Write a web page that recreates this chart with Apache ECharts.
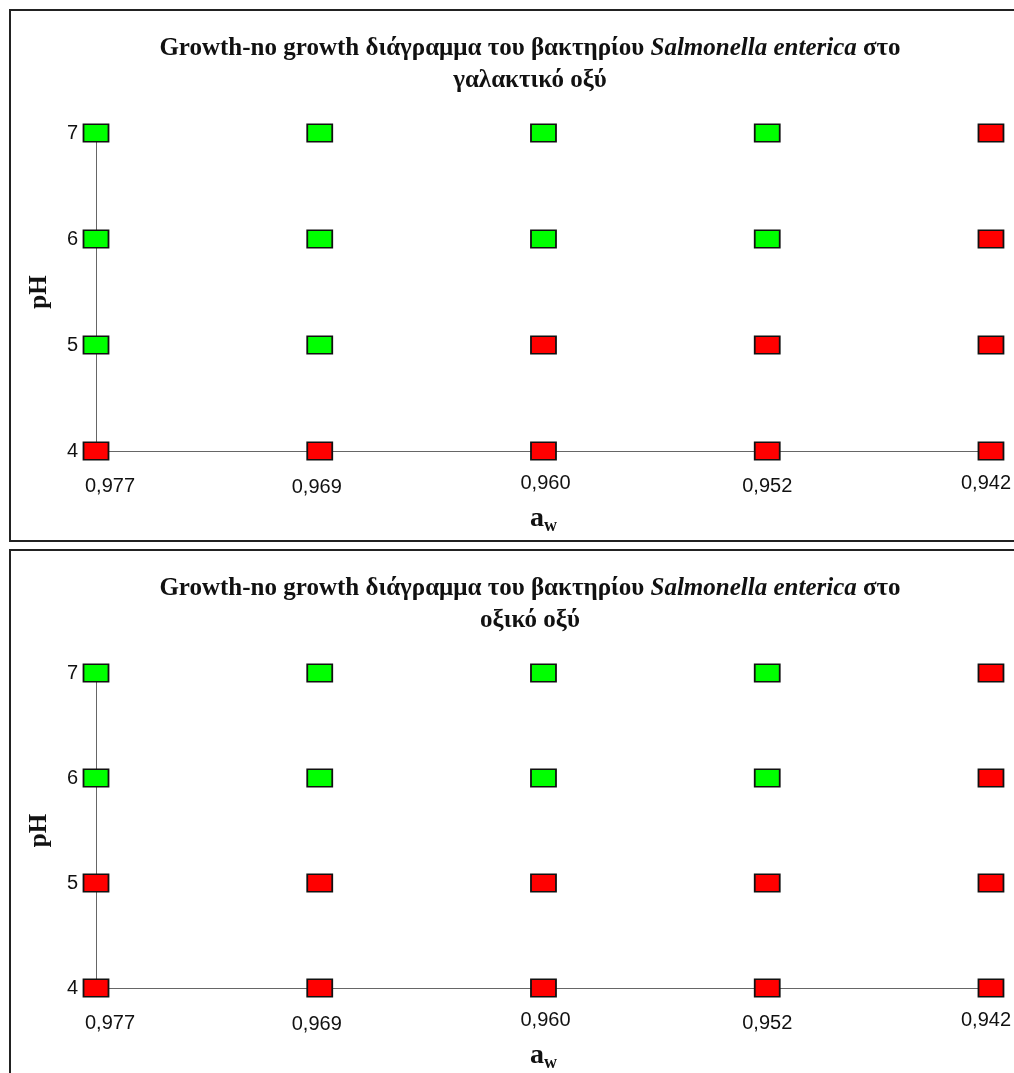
<!DOCTYPE html>
<html>
<head>
<meta charset="utf-8">
<script src="https://cdn.jsdelivr.net/npm/echarts@6/dist/echarts.min.js"></script>
<style>
  html, body { margin: 0; padding: 0; background: #fff; overflow: hidden; }
  #chart { width: 1014px; height: 1073px; }
</style>
</head>
<body>
<div id="chart"></div>
<script>
// Water activity levels (x categories) and pH levels tested
const awLabels = ['0,977', '0,969', '0,960', '0,952', '0,942'];
const phLevels = [4, 5, 6, 7];

// Growth (1) / no growth (0) per pH row (4, 5, 6, 7) and a_w column
const lacticGrowth = [
  [0, 0, 0, 0, 0],
  [1, 1, 0, 0, 0],
  [1, 1, 1, 1, 0],
  [1, 1, 1, 1, 0]
];
const aceticGrowth = [
  [0, 0, 0, 0, 0],
  [0, 0, 0, 0, 0],
  [1, 1, 1, 1, 0],
  [1, 1, 1, 1, 0]
];

const panelTitles = [
  ['Growth-no growth διάγραμμα του βακτηρίου ', 'Salmonella enterica', ' στο', 'γαλακτικό οξύ'],
  ['Growth-no growth διάγραμμα του βακτηρίου ', 'Salmonella enterica', ' στο', 'οξικό οξύ']
];

const GREEN = '#00ff00';
const RED = '#ff0000';
const SERIF = '"Liberation Serif", "Times New Roman", serif';
const SANS = '"Liberation Sans", Arial, sans-serif';

// small per-label nudges of the a_w tick labels [dx, dy]
const labelNudge = [[14, 3], [-3, 4], [2, 0], [0, 3], [-5, 0]];

function pointsFor(matrix, flag) {
  const pts = [];
  matrix.forEach(function (row, r) {
    row.forEach(function (v, c) {
      if (v === flag) pts.push([c, phLevels[r]]);
    });
  });
  return pts;
}

const labelRich = {};
labelNudge.forEach(function (n, i) {
  labelRich['l' + i] = {
    fontFamily: SANS, fontSize: 20, color: '#111',
    padding: [Math.max(n[1], 0), n[0] < 0 ? -n[0] * 2 : 0, 0, n[0] > 0 ? n[0] * 2 : 0]
  };
});

const panelTop = [133, 673];
const grids = [], xAxes = [], yAxes = [], series = [], titles = [];

[lacticGrowth, aceticGrowth].forEach(function (matrix, k) {
  grids.push({ left: 96, right: 22, top: panelTop[k], height: 318 });
  xAxes.push({
    type: 'category', gridIndex: k, data: awLabels, boundaryGap: false,
    axisLine: { lineStyle: { color: '#666', width: 1 } },
    axisTick: { show: false },
    splitLine: { show: false },
    axisLabel: {
      margin: 22,
      formatter: function (val, idx) { return '{l' + idx + '|' + val + '}'; },
      rich: labelRich
    },
    name: '{a|a}{w|w}',
    nameLocation: 'middle', nameGap: 52,
    nameTextStyle: {
      rich: {
        a: { fontFamily: SERIF, fontWeight: 'bold', fontSize: 28, color: '#111' },
        w: { fontFamily: SERIF, fontWeight: 'bold', fontSize: 18, color: '#111', padding: [14, 0, 0, 0] }
      }
    }
  });
  yAxes.push({
    type: 'value', gridIndex: k, min: 4, max: 7, interval: 1,
    axisLine: { show: true, lineStyle: { color: '#666', width: 1 } },
    axisTick: { show: false },
    splitLine: { show: false },
    axisLabel: { margin: 18, fontFamily: SANS, fontSize: 20, color: '#111' },
    name: 'pH', nameLocation: 'middle', nameGap: 44, nameRotate: 90,
    nameTextStyle: { fontFamily: SERIF, fontWeight: 'bold', fontSize: 25, color: '#111' }
  });
  [[1, GREEN, 'growth'], [0, RED, 'no growth']].forEach(function (s) {
    series.push({
      type: 'scatter', name: s[2], xAxisIndex: k, yAxisIndex: k,
      symbol: 'rect', symbolSize: [25, 17.5], clip: false,
      itemStyle: { color: s[1], borderColor: '#111', borderWidth: 1.5, opacity: 1 },
      data: pointsFor(matrix, s[0]),
      z: 5
    });
  });
  const t = panelTitles[k];
  titles.push({
    left: 525, top: panelTop[k] - 105, textAlign: 'center',
    text: '{b|' + t[0] + '}{i|' + t[1] + '}{b|' + t[2] + '}\n{b|' + t[3] + '}',
    textStyle: {
      lineHeight: 32,
      rich: {
        b: { fontFamily: SERIF, fontWeight: 'bold', fontSize: 25, color: '#111', lineHeight: 32 },
        i: { fontFamily: SERIF, fontWeight: 'bold', fontStyle: 'italic', fontSize: 25, color: '#111', lineHeight: 32 }
      }
    }
  });
});

const chart = echarts.init(document.getElementById('chart'), null, { renderer: 'canvas' });
chart.setOption({
  animation: false,
  backgroundColor: '#fff',
  title: titles,
  grid: grids,
  xAxis: xAxes,
  yAxis: yAxes,
  series: series,
  graphic: [
    { type: 'rect', shape: { x: 10, y: 10, width: 1030, height: 531 }, style: { fill: 'none', stroke: '#222', lineWidth: 2 }, silent: true },
    { type: 'rect', shape: { x: 10, y: 550, width: 1030, height: 560 }, style: { fill: 'none', stroke: '#222', lineWidth: 2 }, silent: true }
  ]
});
</script>
</body>
</html>
